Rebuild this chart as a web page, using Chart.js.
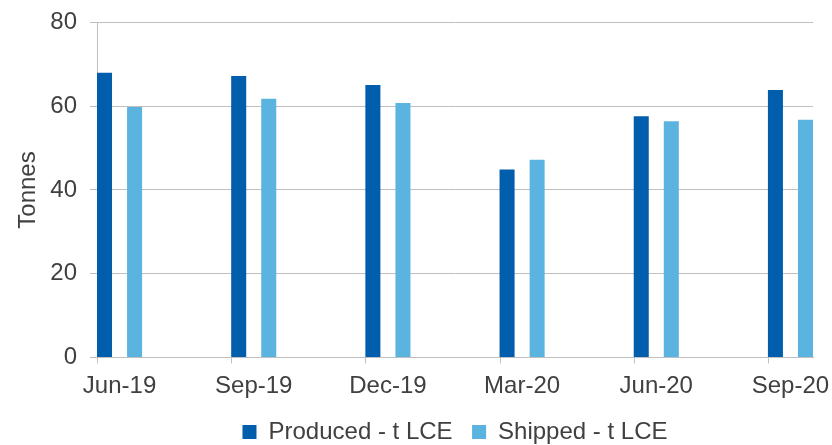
<!DOCTYPE html>
<html>
<head>
<meta charset="utf-8">
<script src="https://cdn.jsdelivr.net/npm/chart.js@4/dist/chart.umd.min.js"></script>
<style>
  html, body { margin: 0; padding: 0; background: #fff; overflow: hidden; }
  #wrap { width: 832px; height: 445px; position: relative; }
</style>
</head>
<body>
<div id="wrap"><canvas id="chart"></canvas></div>
<script>
// Quarter labels
const quarters = ["Jun-19", "Sep-19", "Dec-19", "Mar-20", "Jun-20", "Sep-20"];

// Tonnes per quarter
const produced = [68, 67.2, 65.1, 44.9, 57.6, 63.9];
const shipped = [59.8, 61.8, 60.8, 47.2, 56.4, 56.8];

// Y axis ticks
const yMin = 0;
const yMax = 80;
const yStep = 20;

const textColor = "#404040";
const lineColor = "#bfbfbf";
const fontFamily = "'Liberation Sans', Arial, sans-serif";

// half of a group width, in category units, left empty at both axis ends
const edge = 0.168;

// Excel-style tick marks at the left edge of every group
const groupTicks = {
  id: "groupTicks",
  afterDraw(chart) {
    const ctx = chart.ctx;
    const bottom = chart.chartArea.bottom;
    ctx.save();
    ctx.strokeStyle = lineColor;
    ctx.lineWidth = 1;
    chart.getDatasetMeta(0).data.forEach((bar) => {
      const x = Math.round(bar.x - bar.width / 2) + 0.5;
      ctx.beginPath();
      ctx.moveTo(x, bottom);
      ctx.lineTo(x, bottom + 6);
      ctx.stroke();
    });
    ctx.restore();
  },
};

const toPoints = (values) => values.map((v, i) => ({ x: i, y: v }));

new Chart(document.getElementById("chart"), {
  type: "bar",
  data: {
    datasets: [
      {
        label: "Produced - t LCE",
        data: toPoints(produced),
        backgroundColor: "#005eac",
        categoryPercentage: 0.448,
        barPercentage: 0.5,
      },
      {
        label: "Shipped - t LCE",
        data: toPoints(shipped),
        backgroundColor: "#5bb4e0",
        categoryPercentage: 0.448,
        barPercentage: 0.5,
      },
    ],
  },
  plugins: [groupTicks],
  options: {
    responsive: true,
    maintainAspectRatio: false,
    animation: false,
    layout: { padding: { top: 17, right: 19, bottom: -9, left: 0 } },
    font: { family: fontFamily, size: 24 },
    plugins: {
      tooltip: { enabled: false },
      legend: {
        position: "bottom",
        fullSize: false,
        labels: {
          color: textColor,
          font: { family: fontFamily, size: 24 },
          boxWidth: 14,
          boxHeight: 14,
          padding: 19.5,
        },
      },
    },
    scales: {
      x: {
        type: "linear",
        offset: false,
        min: -edge,
        max: quarters.length - 1 + edge,
        grid: { display: false, drawTicks: true, tickLength: 14 },
        border: { display: true, color: lineColor, width: 1 },
        ticks: {
          stepSize: 1,
          includeBounds: false,
          autoSkip: false,
          maxRotation: 0,
          padding: 0,
          color: textColor,
          font: { family: fontFamily, size: 24 },
          callback: (value) => quarters[value],
        },
        afterFit: (axis) => {
          axis.height = 43;
        },
      },
      y: {
        min: yMin,
        max: yMax,
        grid: { color: lineColor, tickLength: 7 },
        border: { display: true, color: lineColor, width: 1 },
        ticks: {
          stepSize: yStep,
          padding: 13,
          color: textColor,
          font: { family: fontFamily, size: 24, lineHeight: 0.79 },
        },
        title: {
          display: true,
          text: "Tonnes",
          color: textColor,
          font: { family: fontFamily, size: 24 },
          padding: { top: 14, bottom: 0 },
        },
        afterFit: (axis) => {
          axis.width = 97;
        },
      },
    },
  },
});
</script>
</body>
</html>
